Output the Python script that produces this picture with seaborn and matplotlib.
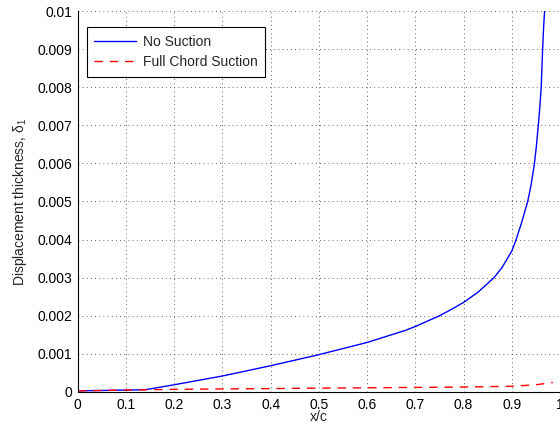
import matplotlib
matplotlib.use("Agg")
import matplotlib.pyplot as plt
import seaborn as sns
import pandas as pd

x_no_suction = [0.0, 0.05, 0.10, 0.14, 0.20, 0.30, 0.40, 0.50, 0.60, 0.65, 0.68, 0.70,
                0.75, 0.775, 0.80, 0.83, 0.863, 0.88, 0.90, 0.909, 0.92, 0.933, 0.94,
                0.947, 0.951, 0.955, 0.958, 0.961, 0.964, 0.966, 0.968]
y_no_suction = [0.00003, 0.00004, 0.00005, 0.00006, 0.00019, 0.00042, 0.00069, 0.00098,
                0.00130, 0.00150, 0.00162, 0.00172, 0.00200, 0.00217, 0.00235, 0.00262,
                0.00300, 0.00327, 0.00370, 0.00400, 0.00443, 0.00500, 0.00543, 0.00600,
                0.00645, 0.00700, 0.00745, 0.00800, 0.00900, 0.00957, 0.01000]

x_full_suction = [0.0, 0.1, 0.2, 0.3, 0.4, 0.5, 0.6, 0.7, 0.8, 0.9, 0.95, 0.985]
y_full_suction = [0.00003, 0.00005, 0.00007, 0.00008, 0.00009, 0.00010, 0.00011,
                  0.00012, 0.00013, 0.00015, 0.00019, 0.00025]

x_ticks = [0, 0.1, 0.2, 0.3, 0.4, 0.5, 0.6, 0.7, 0.8, 0.9, 1]
x_tick_labels = ["0", "0.1", "0.2", "0.3", "0.4", "0.5", "0.6", "0.7", "0.8", "0.9", "1"]
y_ticks = [0, 0.001, 0.002, 0.003, 0.004, 0.005, 0.006, 0.007, 0.008, 0.009, 0.01]
y_tick_labels = ["0", "0.001", "0.002", "0.003", "0.004", "0.005", "0.006", "0.007",
                 "0.008", "0.009", "0.01"]

sns.set_style("white")
plt.rcParams["font.family"] = ["Liberation Sans", "DejaVu Sans"]
plt.rcParams["mathtext.fontset"] = "custom"
plt.rcParams["mathtext.rm"] = "Liberation Sans"
plt.rcParams["mathtext.it"] = "Liberation Sans:italic"

fig = plt.figure(figsize=(5.6, 4.3), dpi=100)
ax = fig.add_axes([0.139, 0.0884, 0.861, 0.886])

df1 = pd.DataFrame({"x": x_no_suction, "y": y_no_suction})
df2 = pd.DataFrame({"x": x_full_suction, "y": y_full_suction})

sns.lineplot(data=df1, x="x", y="y", ax=ax, color="#0000ff", linewidth=1.0,
             label="No Suction", sort=False)
sns.lineplot(data=df2, x="x", y="y", ax=ax, color="#ff0000", linewidth=1.0,
             dashes=False, label="Full Chord Suction", sort=False)
ax.lines[1].set_dashes((6, 5))

ax.set_xlim(0, 1)
ax.set_ylim(0, 0.01)
ax.set_xticks(x_ticks)
ax.set_xticklabels(x_tick_labels)
ax.set_yticks(y_ticks)
ax.set_yticklabels(y_tick_labels)
ax.tick_params(direction="in", length=4, width=0.8, labelsize=10, colors="black",
               pad=4)

ax.grid(True, color="#333333", linestyle=(0, (1, 4)), linewidth=0.6)
for side in ["top", "right"]:
    ax.spines[side].set_visible(False)
for side in ["left", "bottom"]:
    ax.spines[side].set_color("black")
    ax.spines[side].set_linewidth(0.8)

ax.set_xlabel("x/c", fontsize=10, labelpad=-1)
ax.set_ylabel(r"Displacement thickness, $\mathregular{\delta_1}$", fontsize=10, labelpad=6)

leg = ax.legend(loc="upper left", bbox_to_anchor=(0.018, 0.958), fontsize=10,
                frameon=True, fancybox=False, handlelength=3.0, borderpad=0.55,
                labelspacing=0.45, borderaxespad=0, handletextpad=0.5)
leg.get_frame().set_edgecolor("black")
leg.get_frame().set_linewidth(0.8)
leg.get_frame().set_alpha(1)

fig.savefig("out.png", dpi=100)
